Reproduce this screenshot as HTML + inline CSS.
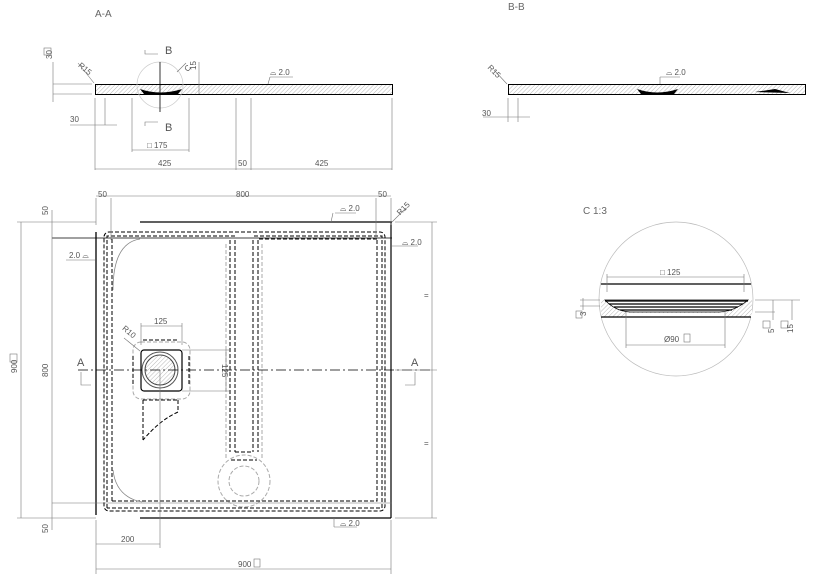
<!DOCTYPE html>
<html><head><meta charset="utf-8"><style>
html,body{margin:0;padding:0;background:#fff;}
svg{display:block;font-family:"Liberation Sans",sans-serif;}
text{fill:#555;font-size:8px;}
.t{font-size:10px;fill:#666;}
.d{stroke:#777;stroke-width:0.6;fill:none;}
.k{stroke:#000;stroke-width:1.2;fill:none;}
.ds{stroke:#000;stroke-width:1;fill:none;stroke-dasharray:4,2;}
.dg{stroke:#aaa;stroke-width:1;fill:none;stroke-dasharray:4,2;}
.dc{stroke:#000;stroke-width:0.8;fill:none;stroke-dasharray:10,3,2,3;}
</style></head><body>
<svg width="822" height="580" viewBox="0 0 822 580" xmlns="http://www.w3.org/2000/svg">
<defs>
<pattern id="h" width="3" height="3" patternUnits="userSpaceOnUse" patternTransform="rotate(45)">
<rect width="3" height="3" fill="#fff"/><line x1="0" y1="0" x2="0" y2="3" stroke="#999" stroke-width="0.7"/></pattern>
</defs>

<!-- A-A -->
<text class="t" x="95" y="17">A-A</text>
<rect x="95.5" y="84.5" width="297" height="10" fill="url(#h)" stroke="#000" stroke-width="1"/>
<path d="M140 89 Q160 96 182 89 L178 94 L144 94 Z" fill="#000"/>
<circle cx="160" cy="85" r="23" style="stroke:#ccc;stroke-width:0.7;fill:none"/>
<line x1="160" y1="62" x2="160" y2="112" stroke="#000" stroke-width="0.8"/>
<path d="M145 50 V54 H158 M145 126 V122 H158" class="d"/>
<text x="165" y="54" style="font-size:11px">B</text><text x="165" y="131" style="font-size:11px">B</text>
<text x="178" y="73" transform="rotate(-50 182 62)">C</text>
<line x1="186" y1="63" x2="177" y2="72" class="d"/>
<text x="196" y="70" transform="rotate(-90 196 70)">15</text>
<line x1="199" y1="62" x2="199" y2="94" class="d"/>
<text x="60" y="67" transform="rotate(-90 52 67)">30</text>
<rect x="44" y="48" width="7" height="7" class="d"/>
<line x1="53" y1="62" x2="53" y2="102" class="d"/><line x1="53" y1="84" x2="92" y2="84" class="d"/><line x1="53" y1="94" x2="92" y2="94" class="d"/>
<text x="77" y="68" transform="rotate(40 80 68)">R15</text><line x1="78" y1="63" x2="94" y2="83" class="d"/>
<text x="270" y="75">⌓ 2.0</text><path d="M270 77 H293 M270 77 L268 84" class="d"/>
<path d="M95 98 V170 M105 98 V125 M132 98 V152 M189 98 V152 M236 98 V170 M251 98 V170 M392 98 V170" class="d"/>
<path d="M70 125 H117 M132 150 H189 M95 169 H392" class="d"/>
<text x="70" y="122">30</text><text x="147" y="148">□ 175</text>
<text x="158" y="166">425</text><text x="238" y="166">50</text><text x="315" y="166">425</text>

<!-- B-B -->
<text class="t" x="508" y="10">B-B</text>
<rect x="508.5" y="84.5" width="297" height="10" fill="url(#h)" stroke="#000" stroke-width="1"/>
<path d="M637 89 Q657 96 678 89 L674 94 L641 94 Z" fill="#000"/>
<path d="M755 92 L790 93 L775 89 Z" fill="#000"/>
<text x="488" y="70" transform="rotate(45 490 68)">R15</text><line x1="494" y1="70" x2="507" y2="84" class="d"/>
<text x="666" y="75">⌓ 2.0</text><path d="M660 77 H680 M660 77 V84" class="d"/>
<path d="M508 98 V122 M518 98 V122 M483 117 H530" class="d"/><text x="482" y="116">30</text>

<!-- C 1:3 -->
<text class="t" x="583" y="214">C 1:3</text>
<circle cx="676" cy="299" r="77" style="stroke:#bbb;stroke-width:0.7;fill:none"/>
<line x1="601" y1="284" x2="751" y2="284" class="k"/>
<path d="M607 277 H744 M607 274 V292 M744 274 V292" class="d"/>
<text x="660" y="275">□ 125</text>
<path d="M601 300 H752 L752 317 H725 V313 H626 V317 H601 Z" fill="url(#h)" stroke="none"/>
<path d="M605 300 H748 Q735 311 720 312 H630 Q615 311 605 300 Z" fill="#fff" stroke="#000" stroke-width="0.8"/>
<path d="M605 301 H748 M609 304 H743 M614 307 H738 M620 310 H732" stroke="#000" stroke-width="1.2"/>
<line x1="601" y1="317" x2="751" y2="317" class="k"/>
<path d="M626 312 V348 M725 312 V348 M626 345 H725" class="d"/>
<text x="664" y="342">Ø90</text><rect x="684" y="334" width="6" height="8" class="d"/>
<path d="M583 298 V310 M580 300 H600 M580 306 H600" class="d"/>
<text x="584" y="322" transform="rotate(-90 582 318)">3</text><rect x="576" y="311" width="6" height="7" class="d"/>
<path d="M755 300 H800 M755 312 H775 M773 300 V320 M792 300 V320" class="d"/>
<text x="771" y="336" transform="rotate(-90 771 333)">5</text><rect x="763" y="321" width="7" height="7" class="d"/>
<text x="790" y="336" transform="rotate(-90 790 333)">15</text><rect x="781" y="321" width="7" height="7" class="d"/>

<!-- Plan view -->
<path d="M140 222 H392 M391 222 V518 M140 518 H391" class="k"/>
<line x1="96" y1="232" x2="96" y2="515" stroke="#000" stroke-width="1.3"/>
<line x1="52" y1="238" x2="392" y2="238" stroke="#000" stroke-width="0.8"/>
<line x1="52" y1="503" x2="392" y2="503" class="d"/>
<rect x="104" y="232" width="281" height="279" rx="5" class="ds"/>
<path d="M107 508 V236 H236 M254 236 H382 V508 H107" class="ds"/>
<path d="M112 501 V239 M112 501 H377 V239 M259 239 H377" class="ds" stroke="#333"/>
<path d="M113 290 Q113 243 140 239" stroke="#888" fill="none" stroke-width="0.8"/>
<path d="M113 470 Q116 497 142 502" stroke="#888" fill="none" stroke-width="0.8"/>
<path d="M226 244 V460 M262 244 V460" class="dg"/>
<path d="M230 240 V452 M235 240 V452 M253 240 V452 M258 240 V452" class="ds"/>
<path d="M235 452 H253 M231 460 H257" class="ds"/>
<circle cx="244" cy="481" r="15" class="dg"/>
<circle cx="244" cy="481" r="26" class="dg"/>
<!-- drain -->
<rect x="141" y="350" width="41" height="41" rx="3" fill="#fff" stroke="#000" stroke-width="1.2"/>
<rect x="133" y="342" width="57" height="57" rx="8" class="dg"/>
<path d="M133 356 V385 M189 356 V385 M143 340 H178 M143 400 H178" class="ds"/>
<circle cx="160" cy="370" r="18" fill="#fff" stroke="#555" stroke-width="1"/>
<circle cx="160" cy="370" r="15" fill="url(#h)" stroke="#444" stroke-width="1"/>
<path d="M143 400 V440 M178 400 V412 Q160 420 143 440" class="ds" stroke="#777"/>
<line x1="160" y1="370" x2="160" y2="548" class="d"/>
<path d="M141 323 V345 M182 323 V345 M141 326 H182" class="d"/><text x="154" y="324">125</text>
<path d="M182 350 H230 M182 391 H230 M226 350 V391" class="d"/>
<text x="222" y="364" transform="rotate(90 222 364)">125</text>
<text x="120" y="330" transform="rotate(40 122 332)">R10</text><line x1="124" y1="338" x2="140" y2="351" class="d"/>
<line x1="78" y1="370" x2="433" y2="370" class="dc"/>
<text x="77" y="366" style="font-size:11px">A</text><text x="411" y="366" style="font-size:11px">A</text>
<path d="M81 372 V385 H91 M415 372 V385 H405" class="d"/>
<!-- dims -->
<path d="M96 198 V225 M111 198 V240 M376 198 V240 M391 198 V225 M96 196 H391" class="d"/>
<text x="98" y="197">50</text><text x="236" y="197">800</text><text x="378" y="197">50</text>
<text x="340" y="211">⌓ 2.0</text><path d="M335 213 H356 M333 213 L331 222" class="d"/>
<text x="396" y="214" transform="rotate(-45 400 210)">R15</text><line x1="392" y1="222" x2="406" y2="208" class="d"/>
<text x="402" y="245">⌓ 2.0</text><path d="M392 246 H418" class="d"/>
<text x="69" y="258">2.0 ⌓</text><path d="M66 260 H95" class="d"/>
<text x="340" y="526">⌓ 2.0</text><path d="M334 527 H357 M334 527 V518" class="d"/>
<path d="M21 222 V518 M17 222 H96 M17 518 H96 M52 210 V530 M52 238 V503" class="d"/>
<text x="17" y="373" transform="rotate(-90 17 373)">900</text><rect x="10" y="354" width="7" height="8" class="d"/>
<text x="48" y="377" transform="rotate(-90 48 377)">800</text>
<text x="48" y="215" transform="rotate(-90 48 215)">50</text>
<text x="48" y="533" transform="rotate(-90 48 533)">50</text>
<path d="M395 222 H437 M395 518 H437 M432 222 V518 M395 370 H437" class="d"/>
<text x="424" y="298">=</text><text x="424" y="446">=</text>
<path d="M96 520 V574 M391 520 V574 M96 544 H160 M96 569 H391" class="d"/>
<text x="121" y="542">200</text><text x="238" y="567">900</text><rect x="254" y="559" width="6" height="8" class="d"/>
</svg>
</body></html>
